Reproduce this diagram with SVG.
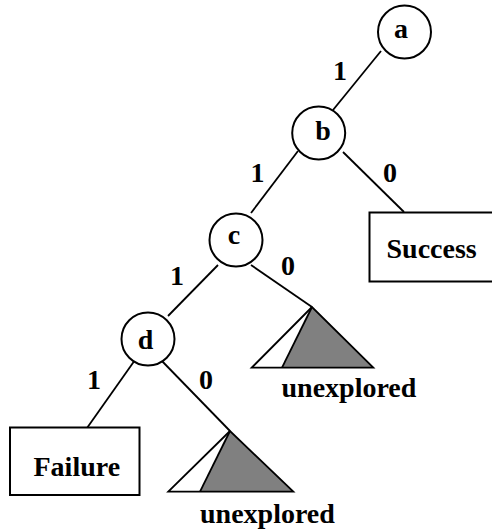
<svg xmlns="http://www.w3.org/2000/svg" width="492" height="531" viewBox="0 0 492 531">
<style>
.ln{stroke:#000;stroke-width:1.8;fill:none}
.nd{stroke:#000;stroke-width:2;fill:#fff}
.t{font-family:"Liberation Serif","Times New Roman",serif;font-weight:bold;font-size:28px;fill:#000}
.m{text-anchor:middle}
.gr{fill:#808080;stroke:none}
</style>
<rect width="492" height="531" fill="#fff"/>
<g id="connectors">
<line class="ln" x1="381" y1="51" x2="333" y2="110"/>
<line class="ln" x1="298" y1="151" x2="251" y2="213"/>
<line class="ln" x1="343" y1="152" x2="404" y2="212"/>
<line class="ln" x1="218" y1="265" x2="168" y2="316"/>
<line class="ln" x1="251" y1="265" x2="312" y2="307"/>
<line class="ln" x1="135" y1="360" x2="87" y2="428"/>
<line class="ln" x1="160" y1="359" x2="230" y2="431"/>
<text class="t m" x="340" y="80">1</text>
<text class="t m" x="390" y="182">0</text>
<text class="t m" x="257.5" y="182">1</text>
<text class="t m" x="288" y="275">0</text>
<text class="t m" x="177" y="285">1</text>
<text class="t m" x="94" y="389">1</text>
<text class="t m" x="206" y="389">0</text>
</g>
<g id="a"><circle class="nd" cx="404.5" cy="32" r="26.5"/><text class="t m" x="401" y="38">a</text></g>
<g id="b"><circle class="nd" cx="318.7" cy="133" r="26.5"/><text class="t m" x="323" y="140">b</text></g>
<g id="c"><circle class="nd" cx="236" cy="240" r="26.5"/><text class="t m" x="234" y="244">c</text></g>
<g id="d"><circle class="nd" cx="148" cy="339" r="26.5"/><text class="t m" x="145.5" y="349">d</text></g>
<g id="success"><rect class="nd" x="369.5" y="212.5" width="130" height="69"/><text class="t" x="386.5" y="258">Success</text></g>
<g id="failure"><rect class="nd" x="10" y="427.5" width="129.5" height="67.5"/><text class="t" x="33.5" y="476">Failure</text></g>
<g id="unexplored1">
<polygon class="gr" points="312,307 282,367.7 373.3,367.7"/>
<polygon class="ln" points="312,307 251.7,367.7 373.3,367.7"/>
<line class="ln" x1="312" y1="307" x2="282" y2="367.7"/>
<text class="t" x="281.5" y="397">unexplored</text>
</g>
<g id="unexplored2">
<polygon class="gr" points="230,431 200,491.7 293.3,491.7"/>
<polygon class="ln" points="230,431 168.3,491.7 293.3,491.7"/>
<line class="ln" x1="230" y1="431" x2="200" y2="491.7"/>
<text class="t" x="200" y="522.5">unexplored</text>
</g>
</svg>
